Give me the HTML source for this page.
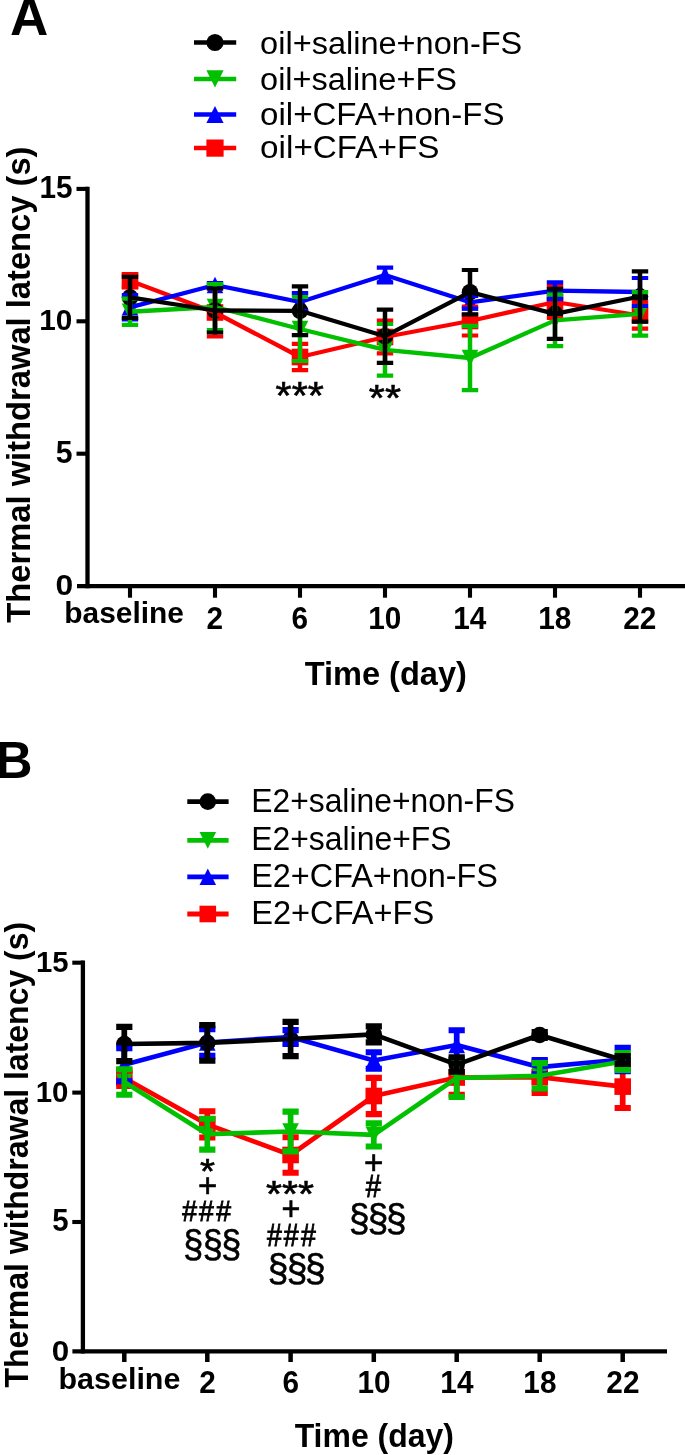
<!DOCTYPE html>
<html><head><meta charset="utf-8"><title>Figure</title>
<style>
html,body{margin:0;padding:0;background:#fff;}
svg{display:block;font-family:"Liberation Sans", Arial, Helvetica, sans-serif;will-change:transform;}
text{fill:#000;}
</style></head>
<body>
<svg width="685" height="1455" viewBox="0 0 685 1455">
<rect width="685" height="1455" fill="#fff"/>
<rect x="121.7" y="272.5" width="16.6" height="16.6" fill="#ff0000"/>
<rect x="206.7" y="304.2" width="16.6" height="16.6" fill="#ff0000"/>
<rect x="291.7" y="348.7" width="16.6" height="16.6" fill="#ff0000"/>
<rect x="376.7" y="328.7" width="16.6" height="16.6" fill="#ff0000"/>
<rect x="461.7" y="312.7" width="16.6" height="16.6" fill="#ff0000"/>
<rect x="546.7" y="293.7" width="16.6" height="16.6" fill="#ff0000"/>
<rect x="631.7" y="307.2" width="16.6" height="16.6" fill="#ff0000"/>
<polygon points="121.7,315.6 138.3,315.6 130,299.0" fill="#0000ff"/>
<polygon points="206.7,293.3 223.3,293.3 215,276.7" fill="#0000ff"/>
<polygon points="291.7,310.3 308.3,310.3 300,293.7" fill="#0000ff"/>
<polygon points="376.7,283.3 393.3,283.3 385,266.7" fill="#0000ff"/>
<polygon points="461.7,310.6 478.3,310.6 470,294.0" fill="#0000ff"/>
<polygon points="546.7,299.0 563.3,299.0 555,282.4" fill="#0000ff"/>
<polygon points="631.7,300.3 648.3,300.3 640,283.7" fill="#0000ff"/>
<polygon points="121.7,303.45 138.3,303.45 130,320.05" fill="#00c000"/>
<polygon points="206.7,298.7 223.3,298.7 215,315.3" fill="#00c000"/>
<polygon points="291.7,320.7 308.3,320.7 300,337.3" fill="#00c000"/>
<polygon points="376.7,341.5 393.3,341.5 385,358.1" fill="#00c000"/>
<polygon points="461.7,349.7 478.3,349.7 470,366.3" fill="#00c000"/>
<polygon points="546.7,312.09999999999997 563.3,312.09999999999997 555,328.7" fill="#00c000"/>
<polygon points="631.7,305.59999999999997 648.3,305.59999999999997 640,322.2" fill="#00c000"/>
<circle cx="130" cy="297.4" r="8.3" fill="#000000"/>
<circle cx="215" cy="310.5" r="8.3" fill="#000000"/>
<circle cx="300" cy="310.8" r="8.3" fill="#000000"/>
<circle cx="385" cy="336.2" r="8.3" fill="#000000"/>
<circle cx="470" cy="292.2" r="8.3" fill="#000000"/>
<circle cx="555" cy="313.8" r="8.3" fill="#000000"/>
<circle cx="640" cy="296.5" r="8.3" fill="#000000"/>
<path d="M130 274.2V287.40000000000003" stroke="#ff0000" stroke-width="4.5" fill="none"/><path d="M121.8 274.2H138.2M121.8 287.40000000000003H138.2" stroke="#ff0000" stroke-width="4.2" fill="none"/>
<path d="M215 288.5V336.5" stroke="#ff0000" stroke-width="4.5" fill="none"/><path d="M206.8 288.5H223.2M206.8 336.5H223.2" stroke="#ff0000" stroke-width="4.2" fill="none"/>
<path d="M300 343.8V370.2" stroke="#ff0000" stroke-width="4.5" fill="none"/><path d="M291.8 343.8H308.2M291.8 370.2H308.2" stroke="#ff0000" stroke-width="4.2" fill="none"/>
<path d="M385 320.6V353.4" stroke="#ff0000" stroke-width="4.5" fill="none"/><path d="M376.8 320.6H393.2M376.8 353.4H393.2" stroke="#ff0000" stroke-width="4.2" fill="none"/>
<path d="M470 306.5V335.5" stroke="#ff0000" stroke-width="4.5" fill="none"/><path d="M461.8 306.5H478.2M461.8 335.5H478.2" stroke="#ff0000" stroke-width="4.2" fill="none"/>
<path d="M555 286V318" stroke="#ff0000" stroke-width="4.5" fill="none"/><path d="M546.8 286H563.2M546.8 318H563.2" stroke="#ff0000" stroke-width="4.2" fill="none"/>
<path d="M640 302.3V328.7" stroke="#ff0000" stroke-width="4.5" fill="none"/><path d="M631.8 302.3H648.2M631.8 328.7H648.2" stroke="#ff0000" stroke-width="4.2" fill="none"/>
<path d="M130 280.8 L215 312.5 L300 357 L385 337 L470 321 L555 302 L640 315.5" stroke="#ff0000" stroke-width="4.3" fill="none" stroke-linejoin="round"/>
<path d="M130 295.2V319.40000000000003" stroke="#0000ff" stroke-width="4.5" fill="none"/><path d="M121.8 295.2H138.2M121.8 319.40000000000003H138.2" stroke="#0000ff" stroke-width="4.2" fill="none"/>
<path d="M215 283.1V286.9" stroke="#0000ff" stroke-width="4.5" fill="none"/><path d="M206.8 283.1H223.2M206.8 286.9H223.2" stroke="#0000ff" stroke-width="4.2" fill="none"/>
<path d="M300 293V311" stroke="#0000ff" stroke-width="4.5" fill="none"/><path d="M291.8 293H308.2M291.8 311H308.2" stroke="#0000ff" stroke-width="4.2" fill="none"/>
<path d="M385 267.7V282.3" stroke="#0000ff" stroke-width="4.5" fill="none"/><path d="M376.8 267.7H393.2M376.8 282.3H393.2" stroke="#0000ff" stroke-width="4.2" fill="none"/>
<path d="M470 295.90000000000003V308.7" stroke="#0000ff" stroke-width="4.5" fill="none"/><path d="M461.8 295.90000000000003H478.2M461.8 308.7H478.2" stroke="#0000ff" stroke-width="4.2" fill="none"/>
<path d="M555 282.3V299.09999999999997" stroke="#0000ff" stroke-width="4.5" fill="none"/><path d="M546.8 282.3H563.2M546.8 299.09999999999997H563.2" stroke="#0000ff" stroke-width="4.2" fill="none"/>
<path d="M640 278V306" stroke="#0000ff" stroke-width="4.5" fill="none"/><path d="M631.8 278H648.2M631.8 306H648.2" stroke="#0000ff" stroke-width="4.2" fill="none"/>
<path d="M130 307.3 L215 285 L300 302 L385 275 L470 302.3 L555 290.7 L640 292" stroke="#0000ff" stroke-width="4.3" fill="none" stroke-linejoin="round"/>
<path d="M130 298.65V324.85" stroke="#00c000" stroke-width="4.5" fill="none"/><path d="M121.8 298.65H138.2M121.8 324.85H138.2" stroke="#00c000" stroke-width="4.2" fill="none"/>
<path d="M215 284V330" stroke="#00c000" stroke-width="4.5" fill="none"/><path d="M206.8 284H223.2M206.8 330H223.2" stroke="#00c000" stroke-width="4.2" fill="none"/>
<path d="M300 297V361" stroke="#00c000" stroke-width="4.5" fill="none"/><path d="M291.8 297H308.2M291.8 361H308.2" stroke="#00c000" stroke-width="4.2" fill="none"/>
<path d="M385 324.0V375.6" stroke="#00c000" stroke-width="4.5" fill="none"/><path d="M376.8 324.0H393.2M376.8 375.6H393.2" stroke="#00c000" stroke-width="4.2" fill="none"/>
<path d="M470 325.8V390.2" stroke="#00c000" stroke-width="4.5" fill="none"/><path d="M461.8 325.8H478.2M461.8 390.2H478.2" stroke="#00c000" stroke-width="4.2" fill="none"/>
<path d="M555 294.7V346.09999999999997" stroke="#00c000" stroke-width="4.5" fill="none"/><path d="M546.8 294.7H563.2M546.8 346.09999999999997H563.2" stroke="#00c000" stroke-width="4.2" fill="none"/>
<path d="M640 292.09999999999997V335.7" stroke="#00c000" stroke-width="4.5" fill="none"/><path d="M631.8 292.09999999999997H648.2M631.8 335.7H648.2" stroke="#00c000" stroke-width="4.2" fill="none"/>
<path d="M130 311.75 L215 307 L300 329 L385 349.8 L470 358 L555 320.4 L640 313.9" stroke="#00c000" stroke-width="4.3" fill="none" stroke-linejoin="round"/>
<path d="M130 276.9V317.9" stroke="#000000" stroke-width="4.5" fill="none"/><path d="M121.8 276.9H138.2M121.8 317.9H138.2" stroke="#000000" stroke-width="4.2" fill="none"/>
<path d="M215 288.5V332.5" stroke="#000000" stroke-width="4.5" fill="none"/><path d="M206.8 288.5H223.2M206.8 332.5H223.2" stroke="#000000" stroke-width="4.2" fill="none"/>
<path d="M300 286.40000000000003V335.2" stroke="#000000" stroke-width="4.5" fill="none"/><path d="M291.8 286.40000000000003H308.2M291.8 335.2H308.2" stroke="#000000" stroke-width="4.2" fill="none"/>
<path d="M385 309.59999999999997V362.8" stroke="#000000" stroke-width="4.5" fill="none"/><path d="M376.8 309.59999999999997H393.2M376.8 362.8H393.2" stroke="#000000" stroke-width="4.2" fill="none"/>
<path d="M470 270.0V314.4" stroke="#000000" stroke-width="4.5" fill="none"/><path d="M461.8 270.0H478.2M461.8 314.4H478.2" stroke="#000000" stroke-width="4.2" fill="none"/>
<path d="M555 288.8V338.8" stroke="#000000" stroke-width="4.5" fill="none"/><path d="M546.8 288.8H563.2M546.8 338.8H563.2" stroke="#000000" stroke-width="4.2" fill="none"/>
<path d="M640 271.3V321.7" stroke="#000000" stroke-width="4.5" fill="none"/><path d="M631.8 271.3H648.2M631.8 321.7H648.2" stroke="#000000" stroke-width="4.2" fill="none"/>
<path d="M130 297.4 L215 310.5 L300 310.8 L385 336.2 L470 292.2 L555 313.8 L640 296.5" stroke="#000000" stroke-width="4.3" fill="none" stroke-linejoin="round"/>
<path d="M87.5 186.75V588.35" stroke="#000" stroke-width="4.3" fill="none"/>
<path d="M77 586.2H685" stroke="#000" stroke-width="4.3" fill="none"/>
<path d="M76.5 188.9H88" stroke="#000" stroke-width="4.1" fill="none"/>
<path d="M76.5 321.3H88" stroke="#000" stroke-width="4.1" fill="none"/>
<path d="M76.5 453.7H88" stroke="#000" stroke-width="4.1" fill="none"/>
<path d="M130 586.2V597.7" stroke="#000" stroke-width="4.1" fill="none"/>
<path d="M215 586.2V597.7" stroke="#000" stroke-width="4.1" fill="none"/>
<path d="M300 586.2V597.7" stroke="#000" stroke-width="4.1" fill="none"/>
<path d="M385 586.2V597.7" stroke="#000" stroke-width="4.1" fill="none"/>
<path d="M470 586.2V597.7" stroke="#000" stroke-width="4.1" fill="none"/>
<path d="M555 586.2V597.7" stroke="#000" stroke-width="4.1" fill="none"/>
<path d="M640 586.2V597.7" stroke="#000" stroke-width="4.1" fill="none"/>
<text x="39.47" y="197.80" font-size="30.43" font-weight="bold"  textLength="33.04" lengthAdjust="spacingAndGlyphs">15</text>
<text x="39.17" y="330.20" font-size="30.00" font-weight="bold"  textLength="33.09" lengthAdjust="spacingAndGlyphs">10</text>
<text x="55.69" y="462.99" font-size="30.86" font-weight="bold"  textLength="16.80" lengthAdjust="spacingAndGlyphs">5</text>
<text x="55.43" y="595.30" font-size="30.28" font-weight="bold"  textLength="17.68" lengthAdjust="spacingAndGlyphs">0</text>
<text x="64.26" y="623.36" font-size="29.18" font-weight="bold"  textLength="119.65" lengthAdjust="spacingAndGlyphs">baseline</text>
<text x="214.8" y="628.6" font-size="31" font-weight="bold" text-anchor="middle" textLength="16.55" lengthAdjust="spacingAndGlyphs">2</text>
<text x="299.8" y="628.6" font-size="31" font-weight="bold" text-anchor="middle" textLength="16.55" lengthAdjust="spacingAndGlyphs">6</text>
<text x="384.8" y="628.6" font-size="31" font-weight="bold" text-anchor="middle" textLength="33.10" lengthAdjust="spacingAndGlyphs">10</text>
<text x="469.8" y="628.6" font-size="31" font-weight="bold" text-anchor="middle" textLength="33.10" lengthAdjust="spacingAndGlyphs">14</text>
<text x="554.8" y="628.6" font-size="31" font-weight="bold" text-anchor="middle" textLength="33.10" lengthAdjust="spacingAndGlyphs">18</text>
<text x="639.8" y="628.6" font-size="31" font-weight="bold" text-anchor="middle" textLength="33.10" lengthAdjust="spacingAndGlyphs">22</text>
<text x="304.67" y="685.47" font-size="33.48" font-weight="bold"  textLength="162.19" lengthAdjust="spacingAndGlyphs">Time (day)</text>
<text transform="translate(30.40,622.63) rotate(-90)" font-size="32.83" font-weight="bold" textLength="476.15" lengthAdjust="spacingAndGlyphs">Thermal withdrawal latency (s)</text>
<text x="10.0" y="35" font-size="53" font-weight="bold" text-anchor="start" >A</text>
<path d="M194 42.5H236.2" stroke="#000000" stroke-width="4.5" fill="none"/>
<circle cx="215" cy="42.5" r="8.6" fill="#000000"/>
<text x="260.1" y="54.4" font-size="32.1" font-weight="normal" text-anchor="start" textLength="262.2" lengthAdjust="spacingAndGlyphs">oil+saline+non-FS</text>
<path d="M194 78.9H236.2" stroke="#00c000" stroke-width="4.5" fill="none"/>
<polygon points="206.4,70.30000000000001 223.6,70.30000000000001 215,87.5" fill="#00c000"/>
<text x="260.1" y="89.7" font-size="32.1" font-weight="normal" text-anchor="start" textLength="196.8" lengthAdjust="spacingAndGlyphs">oil+saline+FS</text>
<path d="M194 114.5H236.2" stroke="#0000ff" stroke-width="4.5" fill="none"/>
<polygon points="206.4,123.1 223.6,123.1 215,105.9" fill="#0000ff"/>
<text x="260.1" y="125.4" font-size="32.1" font-weight="normal" text-anchor="start" textLength="244.4" lengthAdjust="spacingAndGlyphs">oil+CFA+non-FS</text>
<path d="M194 148.1H236.2" stroke="#ff0000" stroke-width="4.5" fill="none"/>
<rect x="206.4" y="139.5" width="17.2" height="17.2" fill="#ff0000"/>
<text x="260.1" y="158.1" font-size="32.1" font-weight="normal" text-anchor="start" textLength="179.4" lengthAdjust="spacingAndGlyphs">oil+CFA+FS</text>
<text x="275.57" y="408.52" font-size="38.29" font-weight="normal" stroke="#000" stroke-width="0.6" textLength="48.25" lengthAdjust="spacingAndGlyphs">***</text>
<text x="368.88" y="411.13" font-size="37.14" font-weight="normal" stroke="#000" stroke-width="0.6" textLength="32.08" lengthAdjust="spacingAndGlyphs">**</text>
<rect x="116.0" y="1069.7" width="16.6" height="16.6" fill="#ff0000"/>
<rect x="199.0" y="1116.1000000000001" width="16.6" height="16.6" fill="#ff0000"/>
<rect x="282.3" y="1146.7" width="16.6" height="16.6" fill="#ff0000"/>
<rect x="365.5" y="1087.7" width="16.6" height="16.6" fill="#ff0000"/>
<rect x="448.4" y="1069.2" width="16.6" height="16.6" fill="#ff0000"/>
<rect x="531.4000000000001" y="1068.9" width="16.6" height="16.6" fill="#ff0000"/>
<rect x="614.4000000000001" y="1078.3" width="16.6" height="16.6" fill="#ff0000"/>
<polygon points="116.0,1073.0 132.6,1073.0 124.3,1056.4" fill="#0000ff"/>
<polygon points="199.0,1050.8 215.60000000000002,1050.8 207.3,1034.2" fill="#0000ff"/>
<polygon points="282.3,1045.3 298.90000000000003,1045.3 290.6,1028.7" fill="#0000ff"/>
<polygon points="365.5,1068.8 382.1,1068.8 373.8,1052.2" fill="#0000ff"/>
<polygon points="448.4,1053.3 465.0,1053.3 456.7,1036.7" fill="#0000ff"/>
<polygon points="531.4000000000001,1075.5 548.0,1075.5 539.7,1058.9" fill="#0000ff"/>
<polygon points="614.4000000000001,1067.8 631.0,1067.8 622.7,1051.2" fill="#0000ff"/>
<polygon points="116.0,1073.7 132.6,1073.7 124.3,1090.3" fill="#00c000"/>
<polygon points="199.0,1125.9 215.60000000000002,1125.9 207.3,1142.5" fill="#00c000"/>
<polygon points="282.3,1123.2 298.90000000000003,1123.2 290.6,1139.8" fill="#00c000"/>
<polygon points="365.5,1126.6000000000001 382.1,1126.6000000000001 373.8,1143.2" fill="#00c000"/>
<polygon points="448.4,1069.7 465.0,1069.7 456.7,1086.3" fill="#00c000"/>
<polygon points="531.4000000000001,1067.5 548.0,1067.5 539.7,1084.1" fill="#00c000"/>
<polygon points="614.4000000000001,1053.2 631.0,1053.2 622.7,1069.8" fill="#00c000"/>
<circle cx="124.3" cy="1044" r="8.3" fill="#000000"/>
<circle cx="207.3" cy="1042.9" r="8.3" fill="#000000"/>
<circle cx="290.6" cy="1039" r="8.3" fill="#000000"/>
<circle cx="373.8" cy="1034.4" r="8.3" fill="#000000"/>
<circle cx="456.7" cy="1064.6" r="8.3" fill="#000000"/>
<circle cx="539.7" cy="1035" r="8.3" fill="#000000"/>
<circle cx="622.7" cy="1060" r="8.3" fill="#000000"/>
<path d="M124.3 1070V1086" stroke="#ff0000" stroke-width="5.7" fill="none"/><path d="M116.2 1070H132.4M116.2 1086H132.4" stroke="#ff0000" stroke-width="6.1" fill="none"/>
<path d="M207.3 1111.3000000000002V1137.5" stroke="#ff0000" stroke-width="5.7" fill="none"/><path d="M199.20000000000002 1111.3000000000002H215.4M199.20000000000002 1137.5H215.4" stroke="#ff0000" stroke-width="6.1" fill="none"/>
<path d="M290.6 1137.2V1172.8" stroke="#ff0000" stroke-width="5.7" fill="none"/><path d="M282.5 1137.2H298.70000000000005M282.5 1172.8H298.70000000000005" stroke="#ff0000" stroke-width="6.1" fill="none"/>
<path d="M373.8 1077.9V1114.1" stroke="#ff0000" stroke-width="5.7" fill="none"/><path d="M365.7 1077.9H381.90000000000003M365.7 1114.1H381.90000000000003" stroke="#ff0000" stroke-width="6.1" fill="none"/>
<path d="M456.7 1060.3V1094.7" stroke="#ff0000" stroke-width="5.7" fill="none"/><path d="M448.59999999999997 1060.3H464.8M448.59999999999997 1094.7H464.8" stroke="#ff0000" stroke-width="6.1" fill="none"/>
<path d="M539.7 1061.5V1092.9" stroke="#ff0000" stroke-width="5.7" fill="none"/><path d="M531.6 1061.5H547.8000000000001M531.6 1092.9H547.8000000000001" stroke="#ff0000" stroke-width="6.1" fill="none"/>
<path d="M622.7 1065.1999999999998V1108.0" stroke="#ff0000" stroke-width="5.7" fill="none"/><path d="M614.6 1065.1999999999998H630.8000000000001M614.6 1108.0H630.8000000000001" stroke="#ff0000" stroke-width="6.1" fill="none"/>
<path d="M124.3 1078 L207.3 1124.4 L290.6 1155 L373.8 1096 L456.7 1077.5 L539.7 1077.2 L622.7 1086.6" stroke="#ff0000" stroke-width="4.7" fill="none" stroke-linejoin="round"/>
<path d="M124.3 1048.2V1081.2" stroke="#0000ff" stroke-width="5.7" fill="none"/><path d="M116.2 1048.2H132.4M116.2 1081.2H132.4" stroke="#0000ff" stroke-width="6.1" fill="none"/>
<path d="M207.3 1029.1V1055.9" stroke="#0000ff" stroke-width="5.7" fill="none"/><path d="M199.20000000000002 1029.1H215.4M199.20000000000002 1055.9H215.4" stroke="#0000ff" stroke-width="6.1" fill="none"/>
<path d="M290.6 1030.1V1043.9" stroke="#0000ff" stroke-width="5.7" fill="none"/><path d="M282.5 1030.1H298.70000000000005M282.5 1043.9H298.70000000000005" stroke="#0000ff" stroke-width="6.1" fill="none"/>
<path d="M373.8 1052.3V1068.7" stroke="#0000ff" stroke-width="5.7" fill="none"/><path d="M365.7 1052.3H381.90000000000003M365.7 1068.7H381.90000000000003" stroke="#0000ff" stroke-width="6.1" fill="none"/>
<path d="M456.7 1030.2V1059.8" stroke="#0000ff" stroke-width="5.7" fill="none"/><path d="M448.59999999999997 1030.2H464.8M448.59999999999997 1059.8H464.8" stroke="#0000ff" stroke-width="6.1" fill="none"/>
<path d="M539.7 1060.0V1074.4" stroke="#0000ff" stroke-width="5.7" fill="none"/><path d="M531.6 1060.0H547.8000000000001M531.6 1074.4H547.8000000000001" stroke="#0000ff" stroke-width="6.1" fill="none"/>
<path d="M622.7 1047.7V1071.3" stroke="#0000ff" stroke-width="5.7" fill="none"/><path d="M614.6 1047.7H630.8000000000001M614.6 1071.3H630.8000000000001" stroke="#0000ff" stroke-width="6.1" fill="none"/>
<path d="M124.3 1064.7 L207.3 1042.5 L290.6 1037 L373.8 1060.5 L456.7 1045 L539.7 1067.2 L622.7 1059.5" stroke="#0000ff" stroke-width="4.7" fill="none" stroke-linejoin="round"/>
<path d="M124.3 1069.3V1094.7" stroke="#00c000" stroke-width="5.7" fill="none"/><path d="M116.2 1069.3H132.4M116.2 1094.7H132.4" stroke="#00c000" stroke-width="6.1" fill="none"/>
<path d="M207.3 1118.8V1149.6000000000001" stroke="#00c000" stroke-width="5.7" fill="none"/><path d="M199.20000000000002 1118.8H215.4M199.20000000000002 1149.6000000000001H215.4" stroke="#00c000" stroke-width="6.1" fill="none"/>
<path d="M290.6 1111.6V1151.4" stroke="#00c000" stroke-width="5.7" fill="none"/><path d="M282.5 1111.6H298.70000000000005M282.5 1151.4H298.70000000000005" stroke="#00c000" stroke-width="6.1" fill="none"/>
<path d="M373.8 1123.3000000000002V1146.5" stroke="#00c000" stroke-width="5.7" fill="none"/><path d="M365.7 1123.3000000000002H381.90000000000003M365.7 1146.5H381.90000000000003" stroke="#00c000" stroke-width="6.1" fill="none"/>
<path d="M456.7 1059V1097" stroke="#00c000" stroke-width="5.7" fill="none"/><path d="M448.59999999999997 1059H464.8M448.59999999999997 1097H464.8" stroke="#00c000" stroke-width="6.1" fill="none"/>
<path d="M539.7 1063.1V1088.5" stroke="#00c000" stroke-width="5.7" fill="none"/><path d="M531.6 1063.1H547.8000000000001M531.6 1088.5H547.8000000000001" stroke="#00c000" stroke-width="6.1" fill="none"/>
<path d="M622.7 1053.1V1069.9" stroke="#00c000" stroke-width="5.7" fill="none"/><path d="M614.6 1053.1H630.8000000000001M614.6 1069.9H630.8000000000001" stroke="#00c000" stroke-width="6.1" fill="none"/>
<path d="M124.3 1082 L207.3 1134.2 L290.6 1131.5 L373.8 1134.9 L456.7 1078 L539.7 1075.8 L622.7 1061.5" stroke="#00c000" stroke-width="4.7" fill="none" stroke-linejoin="round"/>
<path d="M124.3 1026.9V1061.1" stroke="#000000" stroke-width="5.7" fill="none"/><path d="M116.2 1026.9H132.4M116.2 1061.1H132.4" stroke="#000000" stroke-width="6.1" fill="none"/>
<path d="M207.3 1025.1000000000001V1060.7" stroke="#000000" stroke-width="5.7" fill="none"/><path d="M199.20000000000002 1025.1000000000001H215.4M199.20000000000002 1060.7H215.4" stroke="#000000" stroke-width="6.1" fill="none"/>
<path d="M290.6 1021.9V1056.1" stroke="#000000" stroke-width="5.7" fill="none"/><path d="M282.5 1021.9H298.70000000000005M282.5 1056.1H298.70000000000005" stroke="#000000" stroke-width="6.1" fill="none"/>
<path d="M373.8 1026.4V1042.4" stroke="#000000" stroke-width="5.7" fill="none"/><path d="M365.7 1026.4H381.90000000000003M365.7 1042.4H381.90000000000003" stroke="#000000" stroke-width="6.1" fill="none"/>
<path d="M456.7 1057.3999999999999V1071.8" stroke="#000000" stroke-width="5.7" fill="none"/><path d="M448.59999999999997 1057.3999999999999H464.8M448.59999999999997 1071.8H464.8" stroke="#000000" stroke-width="6.1" fill="none"/>
<path d="M539.7 1032V1038" stroke="#000000" stroke-width="5.7" fill="none"/><path d="M531.6 1032H547.8000000000001M531.6 1038H547.8000000000001" stroke="#000000" stroke-width="6.1" fill="none"/>
<path d="M622.7 1056V1064" stroke="#000000" stroke-width="5.7" fill="none"/><path d="M614.6 1056H630.8000000000001M614.6 1064H630.8000000000001" stroke="#000000" stroke-width="6.1" fill="none"/>
<path d="M124.3 1044 L207.3 1042.9 L290.6 1039 L373.8 1034.4 L456.7 1064.6 L539.7 1035 L622.7 1060" stroke="#000000" stroke-width="4.7" fill="none" stroke-linejoin="round"/>
<path d="M82.9 960.5500000000001V1353.45" stroke="#000" stroke-width="4.3" fill="none"/>
<path d="M72.4 1351.3H667" stroke="#000" stroke-width="4.3" fill="none"/>
<path d="M72.3 962.7H83.5" stroke="#000" stroke-width="4.1" fill="none"/>
<path d="M72.3 1092.6H83.5" stroke="#000" stroke-width="4.1" fill="none"/>
<path d="M72.3 1222H83.5" stroke="#000" stroke-width="4.1" fill="none"/>
<path d="M124.3 1351.3V1362" stroke="#000" stroke-width="4.5" fill="none"/>
<path d="M207.3 1351.3V1362" stroke="#000" stroke-width="4.5" fill="none"/>
<path d="M290.6 1351.3V1362" stroke="#000" stroke-width="4.5" fill="none"/>
<path d="M373.8 1351.3V1362" stroke="#000" stroke-width="4.5" fill="none"/>
<path d="M456.7 1351.3V1362" stroke="#000" stroke-width="4.5" fill="none"/>
<path d="M539.7 1351.3V1362" stroke="#000" stroke-width="4.5" fill="none"/>
<path d="M622.7 1351.3V1362" stroke="#000" stroke-width="4.5" fill="none"/>
<text x="35.99" y="972.30" font-size="30.14" font-weight="bold"  textLength="32.61" lengthAdjust="spacingAndGlyphs">15</text>
<text x="35.69" y="1101.90" font-size="30.42" font-weight="bold"  textLength="32.76" lengthAdjust="spacingAndGlyphs">10</text>
<text x="52.22" y="1231.30" font-size="30.43" font-weight="bold"  textLength="16.35" lengthAdjust="spacingAndGlyphs">5</text>
<text x="51.85" y="1360.50" font-size="30.00" font-weight="bold"  textLength="17.45" lengthAdjust="spacingAndGlyphs">0</text>
<text x="58.52" y="1388.96" font-size="29.05" font-weight="bold"  textLength="121.91" lengthAdjust="spacingAndGlyphs">baseline</text>
<text x="207.5" y="1392.6" font-size="31" font-weight="bold" text-anchor="middle" textLength="16.55" lengthAdjust="spacingAndGlyphs">2</text>
<text x="290.8" y="1392.6" font-size="31" font-weight="bold" text-anchor="middle" textLength="16.55" lengthAdjust="spacingAndGlyphs">6</text>
<text x="374.0" y="1392.6" font-size="31" font-weight="bold" text-anchor="middle" textLength="33.10" lengthAdjust="spacingAndGlyphs">10</text>
<text x="456.9" y="1392.6" font-size="31" font-weight="bold" text-anchor="middle" textLength="33.10" lengthAdjust="spacingAndGlyphs">14</text>
<text x="539.9000000000001" y="1392.6" font-size="31" font-weight="bold" text-anchor="middle" textLength="33.10" lengthAdjust="spacingAndGlyphs">18</text>
<text x="622.9000000000001" y="1392.6" font-size="31" font-weight="bold" text-anchor="middle" textLength="33.10" lengthAdjust="spacingAndGlyphs">22</text>
<text x="294.68" y="1447.34" font-size="33.16" font-weight="bold"  textLength="159.26" lengthAdjust="spacingAndGlyphs">Time (day)</text>
<text transform="translate(27.55,1387.52) rotate(-90)" font-size="32.62" font-weight="bold" textLength="465.71" lengthAdjust="spacingAndGlyphs">Thermal withdrawal latency (s)</text>
<text x="-4.6" y="777.9" font-size="51.3" font-weight="bold" text-anchor="start" >B</text>
<path d="M187.3 801.6H228.6" stroke="#000000" stroke-width="4.8" fill="none"/>
<circle cx="207.8" cy="801.6" r="8.3" fill="#000000"/>
<text x="251.2" y="811.8" font-size="32.3" font-weight="normal" text-anchor="start" textLength="263.7" lengthAdjust="spacingAndGlyphs">E2+saline+non-FS</text>
<path d="M187.3 840.4H228.6" stroke="#00c000" stroke-width="4.8" fill="none"/>
<polygon points="199.5,832.1 216.10000000000002,832.1 207.8,848.6999999999999" fill="#00c000"/>
<text x="251.2" y="850.2" font-size="32.3" font-weight="normal" text-anchor="start" textLength="200.4" lengthAdjust="spacingAndGlyphs">E2+saline+FS</text>
<path d="M187.3 876.8H228.6" stroke="#0000ff" stroke-width="4.8" fill="none"/>
<polygon points="199.5,885.0999999999999 216.10000000000002,885.0999999999999 207.8,868.5" fill="#0000ff"/>
<text x="251.2" y="887" font-size="32.3" font-weight="normal" text-anchor="start" textLength="246.8" lengthAdjust="spacingAndGlyphs">E2+CFA+non-FS</text>
<path d="M187.3 914H228.6" stroke="#ff0000" stroke-width="4.8" fill="none"/>
<rect x="199.5" y="905.7" width="16.6" height="16.6" fill="#ff0000"/>
<text x="251.2" y="923.8" font-size="32.3" font-weight="normal" text-anchor="start" textLength="183" lengthAdjust="spacingAndGlyphs">E2+CFA+FS</text>
<text x="200.03" y="1183.45" font-size="35.14" font-weight="normal" stroke="#000" stroke-width="0.6" textLength="15.01" lengthAdjust="spacingAndGlyphs">*</text>
<text x="197.95" y="1196.90" font-size="32.99" font-weight="normal" stroke="#000" stroke-width="0.6">+</text>
<text transform="scale(0.8890,1)" x="204.97 223.86 243.21" y="1220.55" font-size="29.93" stroke="#000" stroke-width="0.9">###</text>
<text transform="scale(0.9224,1)" x="198.77 219.80 239.75" y="1257.28" font-size="39.01" stroke="#000" stroke-width="0.6">§§§</text>
<text x="266.08" y="1206.83" font-size="36.86" font-weight="normal" stroke="#000" stroke-width="0.6" textLength="47.94" lengthAdjust="spacingAndGlyphs">***</text>
<text x="281.38" y="1220.24" font-size="32.37" font-weight="normal" stroke="#000" stroke-width="0.6">+</text>
<text transform="scale(0.8657,1)" x="308.32 327.72 347.59" y="1245.55" font-size="30.80" stroke="#000" stroke-width="0.9">###</text>
<text transform="scale(0.9680,1)" x="276.64 296.17 315.17" y="1280.75" font-size="38.27" stroke="#000" stroke-width="0.6">§§§</text>
<text x="363.94" y="1174.02" font-size="33.20" font-weight="normal" stroke="#000" stroke-width="0.6">+</text>
<text transform="scale(0.8670,1)" x="421.92" y="1197.15" font-size="31.53" stroke="#000" stroke-width="0.9">#</text>
<text transform="scale(0.9548,1)" x="365.63 385.21 404.27" y="1230.52" font-size="38.64" stroke="#000" stroke-width="0.6">§§§</text>
</svg>
</body></html>
